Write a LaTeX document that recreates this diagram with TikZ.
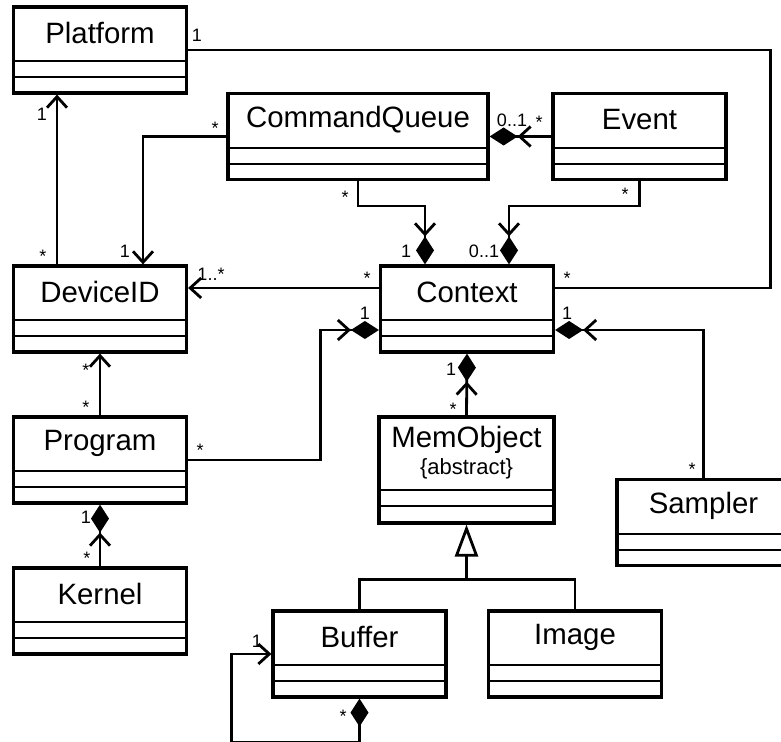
\documentclass[tikz,border=0pt]{standalone}
\usepackage{fontspec}
\setmainfont{Liberation Sans}
\usetikzlibrary{arrows.meta,positioning,calc}

\tikzset{
  classbox/.style={rectangle, draw=black, line width=1.6pt, minimum height=43pt, minimum width=86.5pt, inner sep=0pt},
  classname/.style={inner sep=0pt, minimum height=27.5pt, align=center, font=\fontsize{14.7}{16}\selectfont},
  sepline/.style={line width=0.9pt},
  mult/.style={inner sep=0pt, text height=6.4pt, text depth=0pt, font=\fontsize{9}{10}\selectfont},
  assoc/.style={line width=1.4pt},
  nav/.style={assoc, -{Straight Barb[length=5.5pt, width=10pt]}},
  comp/.style={assoc, -{Straight Barb[length=5.5pt, width=10pt, sep=0pt] Diamond[length=14pt, width=9pt, sep=0pt]}},
  gen/.style={assoc, -{Triangle[open, fill=white, length=16pt, width=11.5pt]}},
}

% class box: [header height] name, position, width, text
\newcommand{\umlclass}[5][27.5pt]{%
  \node[classbox, minimum width=#4] (#2) at (#3) {};
  \node[classname, minimum height=#1, below=0pt of #2.north] (#2-head) {#5};
  \draw[sepline] (#2-head.south -| #2.west) -- (#2-head.south -| #2.east);
  \draw[sepline] ($(#2-head.south -| #2.west)+(0,-8pt)$) -- ($(#2-head.south -| #2.east)+(0,-8pt)$);
}

\begin{document}
\begin{tikzpicture}
    [%%%%%%%%%%%%%%%%%%%%%%%%%%%%%%
        x=0.5pt, y=0.5pt,
    ]%%%%%%%%%%%%%%%%%%%%%%%%%%%%%%
\useasboundingbox (0,0) rectangle (781,-742);

\umlclass{plat}{100,-50}{86.5pt}{Platform}
\umlclass{cq}{358,-136.5}{130pt}{CommandQueue}
\umlclass{ev}{639.5,-136.5}{86.5pt}{Event}
\umlclass{dev}{100,-309}{86.5pt}{DeviceID}
\umlclass{ctx}{467,-309}{86.5pt}{Context}
\umlclass{prog}{100,-460}{86.5pt}{Program}
\umlclass{ker}{100,-611}{86.5pt}{Kernel}
\node[classbox, minimum width=87.5pt, minimum height=53pt] (mem) at (466.5,-470) {};
\node[classname, minimum height=37pt, below=0pt of mem.north] (mem-head)
    {MemObject\\[-2.5pt]{\fontsize{11}{12}\selectfont\{abstract\}}};
\draw[sepline] (mem-head.south -| mem.west) -- (mem-head.south -| mem.east);
\draw[sepline] ($(mem-head.south -| mem.west)+(0,-8pt)$) -- ($(mem-head.south -| mem.east)+(0,-8pt)$);
\umlclass{smp}{703.5,-522.5}{86.5pt}{Sampler}
\umlclass{buf}{359.5,-654}{86.5pt}{Buffer}
\umlclass{img}{575,-654}{86.5pt}{Image}

% associations
\draw[assoc] (plat.east) -- ++(582,0) |- ([yshift=10.5pt]ctx.east);
\draw[nav] ([xshift=-21.5pt]dev.north) -- ([xshift=-21.5pt]plat.south);
\draw[nav] (cq.west) -| ([xshift=21.5pt]dev.north);
\draw[nav] ([yshift=10.5pt]ctx.west) -- ([yshift=10.5pt]dev.east);
\draw[nav] (prog.north) -- (dev.south);

% compositions
\draw[comp] (ev.west) -- (cq.east);
\draw[comp] (cq.south) -- ++(0,-25) -| ([xshift=-21pt]ctx.north);
\draw[comp] (ev.south) -- ++(0,-25) -| ([xshift=21pt]ctx.north);
\draw[comp] (prog.east) -- ++(132,0) |- ([yshift=-10.5pt]ctx.west);
\draw[comp] (ker.north) -- (prog.south);
\draw[comp] (mem.north) -- (ctx.south);
\draw[comp] (smp.north) |- ([yshift=-10.5pt]ctx.east);
\draw[assoc, {Diamond[length=14pt, width=9pt]}-{Straight Barb[length=5.5pt, width=10pt]}]
    (buf.south) -- ++(0,-44) -- ++(-128,0) |- (buf.west);

% generalization
\coordinate (gj) at ($(mem.south)+(0,-55)$);
\draw[assoc] (buf.north) |- (gj) -| (img.north);
\draw[gen] (gj) -- (mem.south);

% multiplicities
\node[mult] (m1) at (197,-35) {1};
\node[mult] (m2) at (567,-278) {*};
\node[mult] (m3) at (42,-114) {1};
\node[mult] (m4) at (43,-256) {*};
\node[mult] (m5) at (215,-128) {*};
\node[mult] (m6) at (125,-251) {1};
\node[mult] (m7) at (512,-120) {0..1};
\node[mult] (m8) at (539,-122) {*};
\node[mult] (m9) at (345,-197) {*};
\node[mult] (m10) at (406,-251) {1};
\node[mult] (m11) at (625,-194) {*};
\node[mult] (m12) at (484,-251) {0..1};
\node[mult] (m13) at (211,-274) {1..*};
\node[mult] (m14) at (367,-278) {*};
\node[mult] (m15) at (365,-313) {1};
\node[mult] (m16) at (200,-450) {*};
\node[mult] (m17) at (86,-370) {*};
\node[mult] (m18) at (86,-407) {*};
\node[mult] (m19) at (86,-517) {1};
\node[mult] (m20) at (87,-558) {*};
\node[mult] (m21) at (451,-369) {1};
\node[mult] (m22) at (453,-409) {*};
\node[mult] (m23) at (567,-313) {1};
\node[mult] (m24) at (692,-469) {*};
\node[mult] (m25) at (257,-641) {1};
\node[mult] (m26) at (343,-716) {*};
\end{tikzpicture}
\end{document}
